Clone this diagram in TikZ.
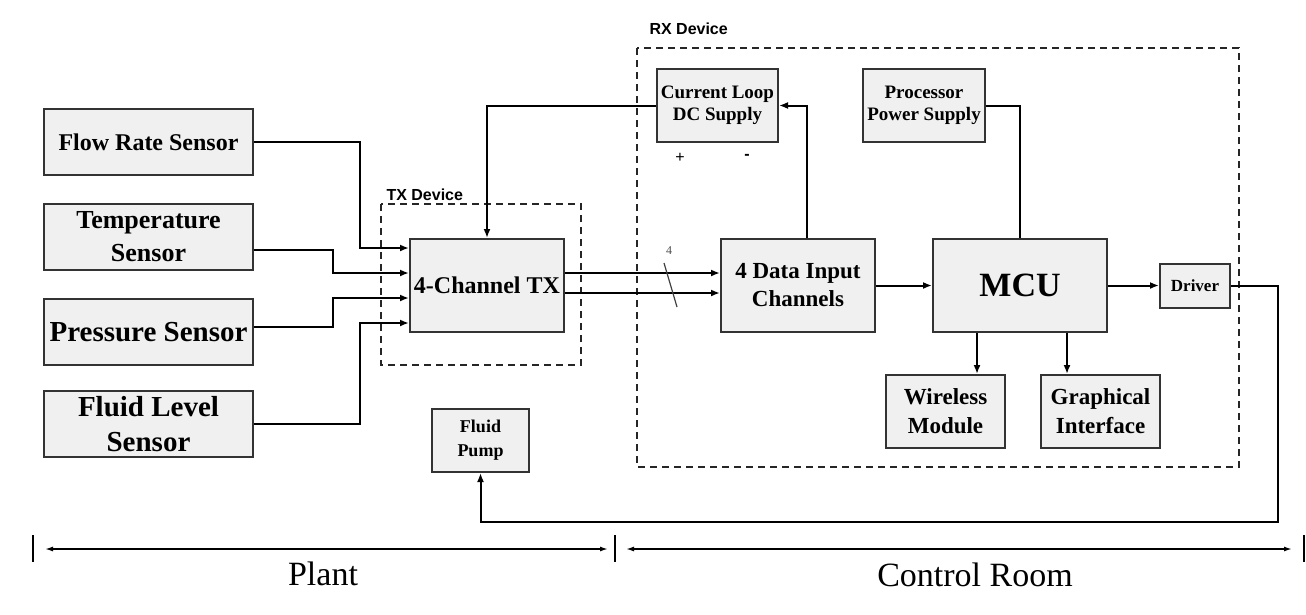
\documentclass[tikz,border=0pt]{standalone}
\usepackage{fontspec}
\setmainfont{Liberation Serif}
\newfontfamily\labelsans{Liberation Sans}
\usepackage{tikz}
\usetikzlibrary{arrows.meta,calc}

\newcommand{\fsz}[2]{\fontsize{#1}{#2}\selectfont}

\begin{document}
\begin{tikzpicture}[x=1pt,y=-1pt,>={Latex[length=9pt,width=7pt]},
    block/.style 2 args={draw=black!80, fill=black!6, line width=2pt, inner sep=0pt,
        align=center, font=\bfseries\fsz{#1}{#2}},
    wire/.style={line width=2pt},
    device/.style={draw=black!85, line width=1.8pt, dash pattern=on 7pt off 5pt},
    devlabel/.style={anchor=base west, font=\labelsans\bfseries\fsz{16}{18}},
    dim/.style={line width=1.5pt, {Latex[length=8pt,width=5pt]}-{Latex[length=8pt,width=5pt]}}]
    \useasboundingbox (0,0) rectangle (1306,614);

    % Sensors
    \node[block={24}{29}, minimum width=209pt, minimum height=66pt] (flow) at (148.5,142) {Flow Rate Sensor};
    \node[block={26}{33}, minimum width=209pt, minimum height=66pt] (temp) at (148.5,237) {Temperature\\Sensor};
    \node[block={29}{35}, minimum width=209pt, minimum height=66pt] (press) at (148.5,332) {Pressure Sensor};
    \node[block={29}{35}, minimum width=209pt, minimum height=66pt] (level) at (148.5,424) {Fluid Level\\Sensor};

    % TX device
    \draw[device] (381,204) rectangle (581,365);
    \node[devlabel] (txlabel) at (383,200) {TX Device};
    \node[block={24}{29}, minimum width=154pt, minimum height=93pt] (tx) at (487,285.5) {4-Channel TX};

    % RX device
    \draw[device] (637,48) rectangle (1239,467);
    \node[devlabel] (rxlabel) at (646,34) {RX Device};
    \node[block={19}{22}, minimum width=121pt, minimum height=73pt] (loopdc) at (717.5,105.5) {Current Loop\\DC Supply};
    \node[block={19}{22}, minimum width=122pt, minimum height=73pt] (procps) at (924,105.5) {Processor\\Power Supply};
    \node[font=\labelsans\fsz{16}{18}] (plus) at (680,158) {+};
    \node[font=\labelsans\bfseries\fsz{16}{18}] (minus) at (747,157) {-};
    \node[block={23}{28}, minimum width=154pt, minimum height=93pt] (datain) at (798,285.5) {4 Data Input\\Channels};
    \node[block={34}{40}, minimum width=174pt, minimum height=93pt] (mcu) at (1020,285.5) {MCU};
    \node[block={17}{20}, minimum width=70pt, minimum height=44pt] (driver) at (1195,285.5) {Driver};
    \node[block={23}{29}, minimum width=119pt, minimum height=73pt] (wireless) at (945.5,411.5) {Wireless\\Module};
    \node[block={23}{29}, minimum width=119pt, minimum height=73pt] (graphic) at (1100.5,411.5) {Graphical\\Interface};

    % Plant side actuator
    \node[block={18}{24}, minimum width=97pt, minimum height=63pt] (pump) at (480.5,440.5) {Fluid\\Pump};

    % Sensor lines into the transmitter
    \draw[wire,->] (flow.east) -- ++(106,0) |- ([yshift=-10pt]tx.north west);
    \draw[wire,->] ([yshift=-13pt]temp.east) -- ++(79,0) |- ([yshift=-35pt]tx.north west);
    \draw[wire,->] ([yshift=5pt]press.east) -- ++(79,0) |- ([yshift=-60pt]tx.north west);
    \draw[wire,->] (level.east) -- ++(106,0) |- ([yshift=-85pt]tx.north west);

    % Current loop
    \draw[wire,->] ([yshift=-35pt]tx.north east) -- ([yshift=-35pt]datain.north west);
    \draw[wire,->] ([yshift=-55pt]tx.north east) -- ([yshift=-55pt]datain.north west);
    \draw[line width=1.2pt, black!75] (664,263) -- (677,307);
    \node[font=\fsz{12}{14}, text=black!70] (bus) at (669,251) {4};
    \draw[wire,->] (loopdc.west) -| (tx.north);
    \draw[wire,->] ([xshift=9pt]datain.north) |- (loopdc.east);

    % Processing
    \draw[wire] (procps.east) -| (mcu.north);
    \draw[wire,->] (datain) -- (mcu);
    \draw[wire,->] (mcu) -- (driver);
    \draw[wire,->] ([xshift=-43pt]mcu.south) -- ([xshift=-43pt]mcu.south |- wireless.north);
    \draw[wire,->] ([xshift=47pt]mcu.south) -- ([xshift=47pt]mcu.south |- graphic.north);
    \draw[wire,->] (driver.east) -- ++(47,0) -- ++(0,236) -| (pump.south);

    % Plant / control room extents
    \coordinate (plantL) at (33,549);
    \coordinate (split) at (615,549);
    \coordinate (roomR) at (1304,549);
    \foreach \c in {plantL,split,roomR}
        \draw[line width=1.5pt] ([yshift=14pt]\c) -- ([yshift=-13pt]\c);
    \draw[dim] ([xshift=12pt]plantL) -- ([xshift=-7pt]split);
    \draw[dim] ([xshift=11pt]split) -- ([xshift=-12pt]roomR);
    \node[font=\fsz{34}{40}] (plant) at (323,574) {Plant};
    \node[font=\fsz{34}{40}] (room) at (975,575) {Control Room};
\end{tikzpicture}
\end{document}
